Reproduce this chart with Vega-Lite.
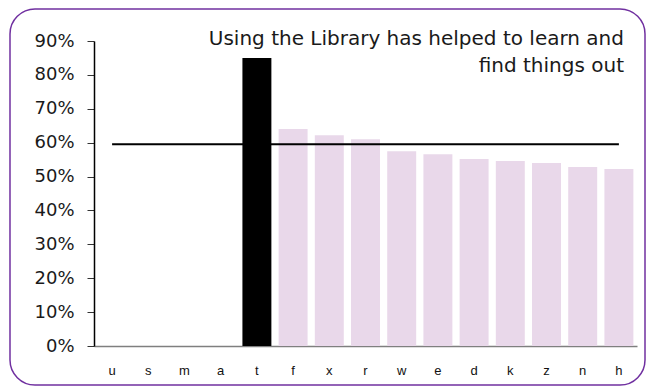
{
  "$schema": "https://vega.github.io/schema/vega-lite/v6.json",
  "width": 635,
  "height": 376,
  "autosize": "none",
  "padding": {"left": 10, "top": 9, "right": 3, "bottom": 2},
  "background": "white",
  "config": {
    "view": {"stroke": "#7030A0", "strokeWidth": 1.5, "cornerRadius": 25},
    "font": "DejaVu Sans"
  },
  "title": {
    "text": ["Using the Library has helped to learn and", "find things out"],
    "anchor": "end",
    "align": "right",
    "orient": "top",
    "baseline": "top",
    "offset": -67,
    "dx": -21,
    "lineHeight": 27,
    "font": "DejaVu Sans",
    "fontSize": 20,
    "fontWeight": "normal",
    "color": "#1a1a1a"
  },
  "data": {
    "values": [
      {"cat": "u", "value": null, "avg": 0.595, "grp": "other"},
      {"cat": "s", "value": null, "avg": 0.595, "grp": "other"},
      {"cat": "m", "value": null, "avg": 0.595, "grp": "other"},
      {"cat": "a", "value": null, "avg": 0.595, "grp": "other"},
      {"cat": "t", "value": 0.85, "avg": 0.595, "grp": "this"},
      {"cat": "f", "value": 0.64, "avg": 0.595, "grp": "other"},
      {"cat": "x", "value": 0.622, "avg": 0.595, "grp": "other"},
      {"cat": "r", "value": 0.61, "avg": 0.595, "grp": "other"},
      {"cat": "w", "value": 0.575, "avg": 0.595, "grp": "other"},
      {"cat": "e", "value": 0.566, "avg": 0.595, "grp": "other"},
      {"cat": "d", "value": 0.552, "avg": 0.595, "grp": "other"},
      {"cat": "k", "value": 0.546, "avg": 0.595, "grp": "other"},
      {"cat": "z", "value": 0.54, "avg": 0.595, "grp": "other"},
      {"cat": "n", "value": 0.528, "avg": 0.595, "grp": "other"},
      {"cat": "h", "value": 0.522, "avg": 0.595, "grp": "other"}
    ]
  },
  "encoding": {
    "x": {
      "field": "cat",
      "type": "nominal",
      "sort": ["u", "s", "m", "a", "t", "f", "x", "r", "w", "e", "d", "k", "z", "n", "h"],
      "scale": {"range": [84, 627], "paddingInner": 0.2, "paddingOuter": 0.1},
      "axis": {
        "title": null,
        "offset": -39,
        "labelAngle": 0,
        "ticks": false,
        "domainColor": "#7f7f7f",
        "domainWidth": 1.5,
        "labelFont": "Liberation Sans",
        "labelFontSize": 13,
        "labelColor": "#111111",
        "labelPadding": 18
      }
    }
  },
  "layer": [
    {
      "mark": {"type": "bar"},
      "encoding": {
        "y": {
          "field": "value",
          "type": "quantitative",
          "scale": {"domain": [0, 0.9], "range": [337, 32], "nice": false},
          "axis": {
            "title": null,
            "offset": -84,
            "values": [0, 0.1, 0.2, 0.3, 0.4, 0.5, 0.6, 0.7, 0.8, 0.9],
            "format": ".0%",
            "grid": false,
            "domainColor": "#000000",
            "domainWidth": 1.5,
            "tickColor": "#333333",
            "tickSize": 7,
            "labelFont": "DejaVu Sans",
            "labelFontSize": 18,
            "labelColor": "#1a1a1a",
            "labelPadding": 13
          }
        },
        "color": {
          "field": "grp",
          "type": "nominal",
          "scale": {"domain": ["this", "other"], "range": ["#000000", "#E9D8EA"]},
          "legend": null
        }
      }
    },
    {
      "mark": {"type": "line", "color": "#000000", "strokeWidth": 2},
      "encoding": {
        "y": {"field": "avg", "type": "quantitative"}
      }
    }
  ]
}
